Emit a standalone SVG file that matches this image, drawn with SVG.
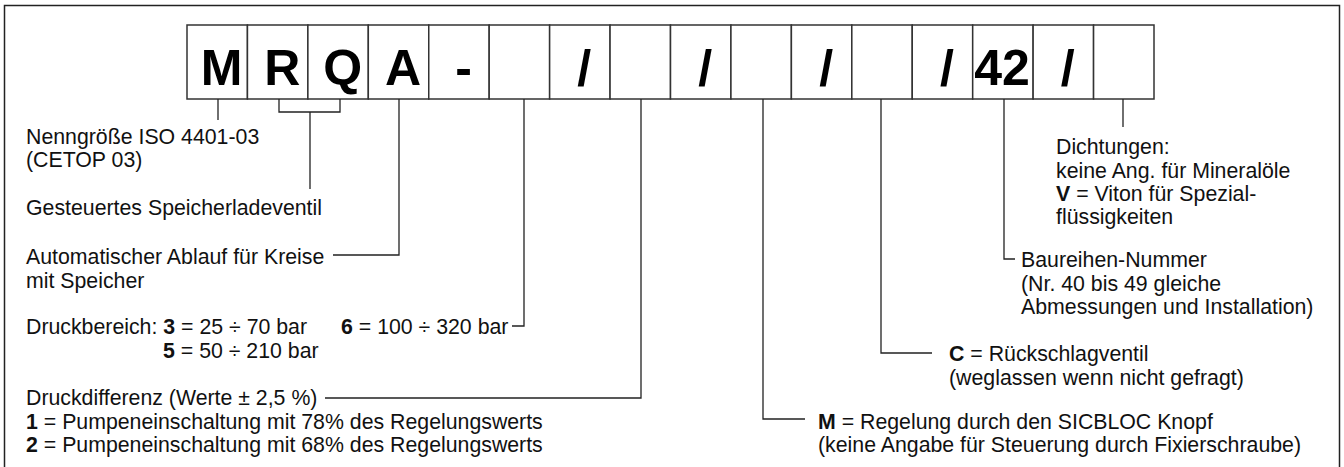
<svg xmlns="http://www.w3.org/2000/svg" width="1344" height="467" viewBox="0 0 1344 467">
<style>
.frame{fill:none;stroke:#222;stroke-width:1.5}
.cell rect{fill:#fff;stroke:#333;stroke-width:1.5}
.big{font-family:"Liberation Sans",Arial,sans-serif;font-weight:bold;font-size:50px;fill:#000;text-anchor:middle}
.lbl{font-family:"Liberation Sans",Arial,sans-serif;font-size:21.3px;fill:#111}
.b{font-weight:bold}
#connectors path{fill:none;stroke:#222;stroke-width:1.3}
</style>
<rect class="frame" x="4.5" y="5.5" width="1335" height="480"/>
<g id="code">
<g id="cell-0" class="cell"><rect x="187" y="25" width="60.44" height="74"/><text class="big" x="221.7" y="85">M</text></g>
<g id="cell-1" class="cell"><rect x="247.44" y="25" width="60.44" height="74"/><text class="big" x="282.2" y="85">R</text></g>
<g id="cell-2" class="cell"><rect x="307.88" y="25" width="60.44" height="74"/><text class="big" x="342.6" y="85">Q</text></g>
<g id="cell-3" class="cell"><rect x="368.31" y="25" width="60.44" height="74"/><text class="big" x="403" y="85">A</text></g>
<g id="cell-4" class="cell"><rect x="428.75" y="25" width="60.44" height="74"/><text class="big" x="463.5" y="85">-</text></g>
<g id="cell-5" class="cell"><rect x="489.19" y="25" width="60.44" height="74"/></g>
<g id="cell-6" class="cell"><rect x="549.63" y="25" width="60.44" height="74"/><text class="big" x="584.3" y="85">/</text></g>
<g id="cell-7" class="cell"><rect x="610.06" y="25" width="60.44" height="74"/></g>
<g id="cell-8" class="cell"><rect x="670.5" y="25" width="60.44" height="74"/><text class="big" x="705.2" y="85">/</text></g>
<g id="cell-9" class="cell"><rect x="730.94" y="25" width="60.44" height="74"/></g>
<g id="cell-10" class="cell"><rect x="791.38" y="25" width="60.44" height="74"/><text class="big" x="826.1" y="85">/</text></g>
<g id="cell-11" class="cell"><rect x="851.81" y="25" width="60.44" height="74"/></g>
<g id="cell-12" class="cell"><rect x="912.25" y="25" width="60.44" height="74"/><text class="big" x="947" y="85">/</text></g>
<g id="cell-13" class="cell"><rect x="972.69" y="25" width="60.44" height="74"/><text class="big" x="1002" y="85">42</text></g>
<g id="cell-14" class="cell"><rect x="1033.13" y="25" width="60.44" height="74"/><text class="big" x="1067.8" y="85">/</text></g>
<g id="cell-15" class="cell"><rect x="1093.56" y="25" width="60.44" height="74"/></g>
</g>
<g id="connectors">
<path d="M218,99 V120"/>
<path d="M279,99 V112 H340 V99 M310,112 V189"/>
<path d="M399,99 V255 H333"/>
<path d="M524,99 V326 H512"/>
<path d="M641,99 V398 H325"/>
<path d="M763,99 V419 H805"/>
<path d="M881,99 V353 H932"/>
<path d="M1004,99 V259 H1015"/>
<path d="M1123,99 V127"/>
</g>
<g id="lbl-size"><text class="lbl" x="26" y="144">Nenngröße ISO 4401-03</text><text class="lbl" x="26" y="167">(CETOP 03)</text></g>
<g id="lbl-valve"><text class="lbl" x="26" y="214.5">Gesteuertes Speicherladeventil</text></g>
<g id="lbl-auto"><text class="lbl" x="26" y="264">Automatischer Ablauf für Kreise</text><text class="lbl" x="26" y="287.5">mit Speicher</text></g>
<g id="lbl-range"><text class="lbl" x="26" y="334">Druckbereich: <tspan class="b">3</tspan> = 25 ÷ 70 bar<tspan class="b" x="341">6</tspan> = 100 ÷ 320 bar</text><text class="lbl" x="163" y="357.5"><tspan class="b">5</tspan> = 50 ÷ 210 bar</text></g>
<g id="lbl-diff"><text class="lbl" x="26" y="405">Druckdifferenz (Werte ± 2,5 %)</text><text class="lbl" x="26" y="428.5"><tspan class="b">1</tspan> = Pumpeneinschaltung mit 78% des Regelungswerts</text><text class="lbl" x="26" y="452"><tspan class="b">2</tspan> = Pumpeneinschaltung mit 68% des Regelungswerts</text></g>
<g id="lbl-knob"><text class="lbl" x="818" y="428.5"><tspan class="b">M</tspan> = Regelung durch den SICBLOC Knopf</text><text class="lbl" x="818" y="452">(keine Angabe für Steuerung durch Fixierschraube)</text></g>
<g id="lbl-check"><text class="lbl" x="949" y="361"><tspan class="b">C</tspan> = Rückschlagventil</text><text class="lbl" x="949" y="384.5">(weglassen wenn nicht gefragt)</text></g>
<g id="lbl-series"><text class="lbl" x="1021" y="267">Baureihen-Nummer</text><text class="lbl" x="1021" y="290.5">(Nr. 40 bis 49 gleiche</text><text class="lbl" x="1021" y="314">Abmessungen und Installation)</text></g>
<g id="lbl-seal"><text class="lbl" x="1056" y="154">Dichtungen:</text><text class="lbl" x="1056" y="177.5">keine Ang. für Mineralöle</text><text class="lbl" x="1056" y="200.5"><tspan class="b">V</tspan> = Viton für Spezial-</text><text class="lbl" x="1056" y="223.5">flüssigkeiten</text></g>
</svg>
